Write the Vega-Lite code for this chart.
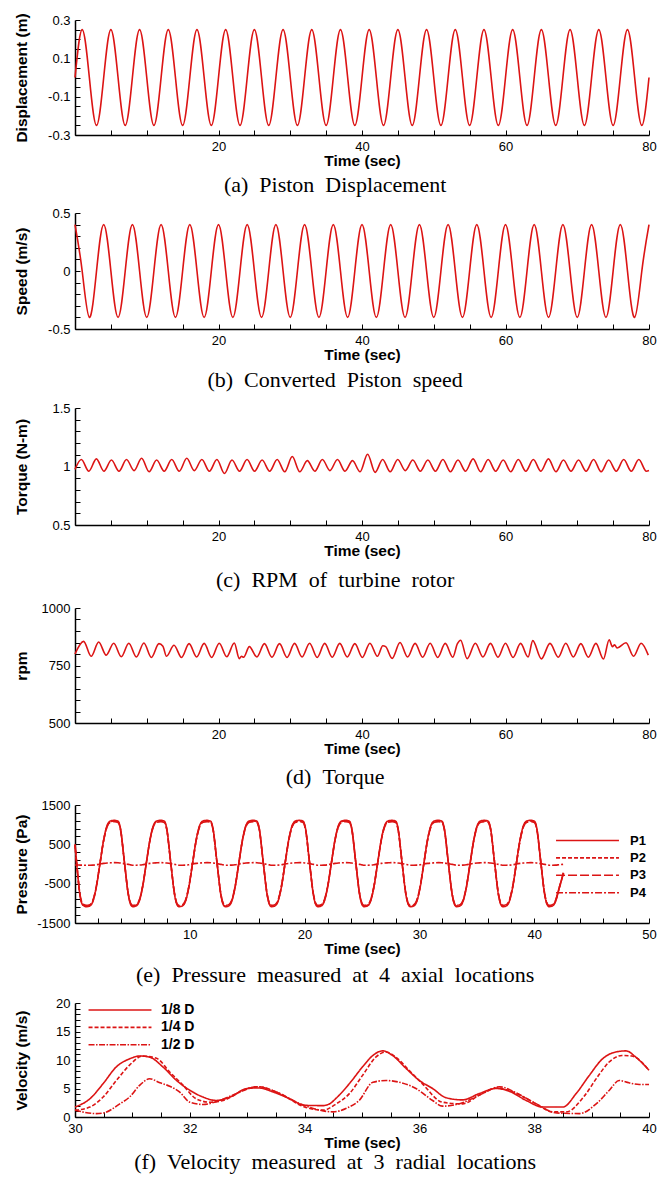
{
"$schema": "https://vega.github.io/schema/vega-lite/v6.json",
"padding": {"left": 13, "top": 12, "right": 6, "bottom": 4},
"spacing": 11,
"resolve": {"scale": {"strokeDash": "independent"}, "legend": {"strokeDash": "independent"}},
"config": {
 "view": {"stroke": null},
 "axis": {"grid": false, "domainColor": "#000", "domainWidth": 1.5, "tickColor": "#000", "tickWidth": 1, "tickSize": -5, "labelFont": "Liberation Sans", "labelFontSize": 13, "labelColor": "#000", "labelPadding": 10, "titleFont": "Liberation Sans", "titleFontSize": 15.5, "titleFontWeight": "bold", "titleColor": "#000", "labelFlush": false, "labelOverlap": false},
 "axisX": {"titlePadding": 0},
 "axisY": {"titleX": -46},
 "title": {"orient": "bottom", "anchor": "middle", "frame": "bounds", "font": "Liberation Serif", "fontSize": 22, "fontWeight": "normal", "color": "#000", "offset": 7},
 "legend": {"labelFont": "Liberation Sans", "labelFontWeight": "bold", "labelColor": "#000", "symbolType": "M-6,0H6", "symbolSize": 110, "symbolStrokeColor": "#dc1414", "symbolStrokeWidth": 1.6, "padding": 0, "rowPadding": 3.4},
 "line": {"color": "#dc1414", "strokeWidth": 1.6}
},
"datasets": {
 "ab": [
  {"t":0,"d":0,"s":0.4},{"t":1,"d":0.25,"s":0},{"t":2,"d":0,"s":-0.4},{"t":3,"d":-0.25,"s":0},
  {"t":4,"d":0,"s":0.4},{"t":5,"d":0.25,"s":0},{"t":6,"d":0,"s":-0.4},{"t":7,"d":-0.25,"s":0},
  {"t":8,"d":0,"s":0.4},{"t":9,"d":0.25,"s":0},{"t":10,"d":0,"s":-0.4},{"t":11,"d":-0.25,"s":0},
  {"t":12,"d":0,"s":0.4},{"t":13,"d":0.25,"s":0},{"t":14,"d":0,"s":-0.4},{"t":15,"d":-0.25,"s":0},
  {"t":16,"d":0,"s":0.4},{"t":17,"d":0.25,"s":0},{"t":18,"d":0,"s":-0.4},{"t":19,"d":-0.25,"s":0},
  {"t":20,"d":0,"s":0.4},{"t":21,"d":0.25,"s":0},{"t":22,"d":0,"s":-0.4},{"t":23,"d":-0.25,"s":0},
  {"t":24,"d":0,"s":0.4},{"t":25,"d":0.25,"s":0},{"t":26,"d":0,"s":-0.4},{"t":27,"d":-0.25,"s":0},
  {"t":28,"d":0,"s":0.4},{"t":29,"d":0.25,"s":0},{"t":30,"d":0,"s":-0.4},{"t":31,"d":-0.25,"s":0},
  {"t":32,"d":0,"s":0.4},{"t":33,"d":0.25,"s":0},{"t":34,"d":0,"s":-0.4},{"t":35,"d":-0.25,"s":0},
  {"t":36,"d":0,"s":0.4},{"t":37,"d":0.25,"s":0},{"t":38,"d":0,"s":-0.4},{"t":39,"d":-0.25,"s":0},
  {"t":40,"d":0,"s":0.4},{"t":41,"d":0.25,"s":0},{"t":42,"d":0,"s":-0.4},{"t":43,"d":-0.25,"s":0},
  {"t":44,"d":0,"s":0.4},{"t":45,"d":0.25,"s":0},{"t":46,"d":0,"s":-0.4},{"t":47,"d":-0.25,"s":0},
  {"t":48,"d":0,"s":0.4},{"t":49,"d":0.25,"s":0},{"t":50,"d":0,"s":-0.4},{"t":51,"d":-0.25,"s":0},
  {"t":52,"d":0,"s":0.4},{"t":53,"d":0.25,"s":0},{"t":54,"d":0,"s":-0.4},{"t":55,"d":-0.25,"s":0},
  {"t":56,"d":0,"s":0.4},{"t":57,"d":0.25,"s":0},{"t":58,"d":0,"s":-0.4},{"t":59,"d":-0.25,"s":0},
  {"t":60,"d":0,"s":0.4},{"t":61,"d":0.25,"s":0},{"t":62,"d":0,"s":-0.4},{"t":63,"d":-0.25,"s":0},
  {"t":64,"d":0,"s":0.4},{"t":65,"d":0.25,"s":0},{"t":66,"d":0,"s":-0.4},{"t":67,"d":-0.25,"s":0},
  {"t":68,"d":0,"s":0.4},{"t":69,"d":0.25,"s":0},{"t":70,"d":0,"s":-0.4},{"t":71,"d":-0.25,"s":0},
  {"t":72,"d":0,"s":0.4},{"t":73,"d":0.25,"s":0},{"t":74,"d":0,"s":-0.4},{"t":75,"d":-0.25,"s":0},
  {"t":76,"d":0,"s":0.4},{"t":77,"d":0.25,"s":0},{"t":78,"d":0,"s":-0.4},{"t":79,"d":-0.25,"s":0},
  {"t":80,"d":0,"s":0.4}
 ],
 "c": [
  {"t":0,"v":0.975},
  {"t":0.88,"v":1.06},{"t":1.93,"v":0.96},{"t":2.98,"v":1.065},{"t":4.03,"v":0.96},
  {"t":5.08,"v":1.055},{"t":6.13,"v":0.96},{"t":7.18,"v":1.06},{"t":8.23,"v":0.965},
  {"t":9.28,"v":1.07},{"t":10.33,"v":0.955},{"t":11.38,"v":1.055},{"t":12.43,"v":0.96},
  {"t":13.48,"v":1.06},{"t":14.53,"v":0.96},{"t":15.58,"v":1.07},{"t":16.63,"v":0.965},
  {"t":17.68,"v":1.06},{"t":18.73,"v":0.96},{"t":19.78,"v":1.06},{"t":20.83,"v":0.94},
  {"t":21.88,"v":1.055},{"t":22.93,"v":0.96},{"t":23.98,"v":1.06},{"t":25.03,"v":0.96},
  {"t":26.08,"v":1.055},{"t":27.13,"v":0.96},{"t":28.18,"v":1.06},{"t":29.23,"v":0.955},
  {"t":30.28,"v":1.085},{"t":31.33,"v":0.955},{"t":32.38,"v":1.05},{"t":33.43,"v":0.96},
  {"t":34.48,"v":1.06},{"t":35.53,"v":0.965},{"t":36.58,"v":1.06},{"t":37.63,"v":0.96},
  {"t":38.68,"v":1.05},{"t":39.73,"v":0.955},{"t":40.78,"v":1.105},{"t":41.83,"v":0.95},
  {"t":42.88,"v":1.06},{"t":43.93,"v":0.955},{"t":44.98,"v":1.06},{"t":46.03,"v":0.965},
  {"t":47.08,"v":1.055},{"t":48.13,"v":0.96},{"t":49.18,"v":1.055},{"t":50.23,"v":0.96},
  {"t":51.28,"v":1.06},{"t":52.33,"v":0.955},{"t":53.38,"v":1.055},{"t":54.43,"v":0.96},
  {"t":55.48,"v":1.065},{"t":56.53,"v":0.955},{"t":57.58,"v":1.06},{"t":58.63,"v":0.96},
  {"t":59.68,"v":1.055},{"t":60.73,"v":0.955},{"t":61.78,"v":1.06},{"t":62.83,"v":0.96},
  {"t":63.88,"v":1.06},{"t":64.93,"v":0.96},{"t":65.98,"v":1.065},{"t":67.03,"v":0.955},
  {"t":68.08,"v":1.055},{"t":69.13,"v":0.96},{"t":70.18,"v":1.055},{"t":71.23,"v":0.96},
  {"t":72.28,"v":1.06},{"t":73.33,"v":0.955},{"t":74.38,"v":1.055},{"t":75.43,"v":0.96},
  {"t":76.48,"v":1.06},{"t":77.53,"v":0.96},{"t":78.58,"v":1.06},{"t":79.63,"v":0.96},
  {"t":80,"v":0.965}
 ],
 "d": [
  {"t":0,"v":800},{"t":1.2,"v":855},{"t":2.25,"v":790},{"t":3.3,"v":852},{"t":4.35,"v":795},
  {"t":5.4,"v":847},{"t":6.45,"v":788},{"t":7.5,"v":847},{"t":8.55,"v":787},{"t":9.6,"v":848},
  {"t":10.65,"v":785},{"t":11.7,"v":845},{"t":12.25,"v":834},{"t":12.75,"v":790},{"t":13.8,"v":838},
  {"t":14.85,"v":785},{"t":15.9,"v":845},{"t":16.95,"v":787},{"t":18.0,"v":846},{"t":19.05,"v":785},
  {"t":20.1,"v":847},{"t":21.15,"v":788},{"t":22.2,"v":848},{"t":22.9,"v":780},{"t":23.2,"v":790},
  {"t":23.5,"v":786},{"t":24.3,"v":832},{"t":25.35,"v":787},{"t":26.4,"v":845},{"t":27.45,"v":786},
  {"t":28.5,"v":845},{"t":29.55,"v":785},{"t":30.6,"v":846},{"t":31.65,"v":787},{"t":32.7,"v":847},
  {"t":33.75,"v":785},{"t":34.8,"v":846},{"t":35.85,"v":786},{"t":36.9,"v":846},{"t":37.95,"v":787},
  {"t":39.0,"v":845},{"t":40.05,"v":785},{"t":41.1,"v":847},{"t":42.15,"v":790},{"t":42.9,"v":836},
  {"t":43.3,"v":832},{"t":44.2,"v":781},{"t":45.3,"v":850},{"t":46.35,"v":787},{"t":47.4,"v":846},
  {"t":48.45,"v":786},{"t":49.5,"v":847},{"t":50.55,"v":785},{"t":51.6,"v":846},{"t":52.65,"v":786},
  {"t":53.3,"v":845},{"t":53.75,"v":860},{"t":54.65,"v":780},{"t":55.8,"v":847},{"t":56.85,"v":787},
  {"t":57.9,"v":846},{"t":58.95,"v":786},{"t":60.0,"v":847},{"t":61.05,"v":785},{"t":62.1,"v":846},
  {"t":63.15,"v":787},{"t":63.8,"v":858},{"t":65.0,"v":779},{"t":66.2,"v":846},{"t":67.35,"v":786},
  {"t":68.4,"v":847},{"t":69.45,"v":787},{"t":70.5,"v":845},{"t":71.55,"v":786},{"t":72.6,"v":846},
  {"t":73.65,"v":778},{"t":74.45,"v":862},{"t":74.9,"v":832},{"t":75.2,"v":840},{"t":75.55,"v":826},
  {"t":76.8,"v":849},{"t":77.85,"v":790},{"t":78.9,"v":847},{"t":79.9,"v":795}
 ],
 "e": [
  {"t":0,"P1":500,"P2":493,"P3":485,"P4":-25},
  {"t":0.2,"P1":-150,"P2":-148,"P3":-146,"P4":-26},
  {"t":0.43,"P1":-790,"P2":-778,"P3":-766,"P4":-28},
  {"t":0.7,"P1":-1050,"P2":-1034,"P3":-1018,"P4":-30},
  {"t":1.00,"P1":-1085,"P2":-1069,"P3":-1052,"P4":-30},{"t":1.30,"P1":-1065,"P2":-1049,"P3":-1033,"P4":-30},{"t":1.55,"P1":-960,"P2":-946,"P3":-931,"P4":-28},{"t":1.85,"P1":-600,"P2":-591,"P3":-582,"P4":-20},{"t":2.17,"P1":0,"P2":0,"P3":0,"P4":0},{"t":2.50,"P1":620,"P2":611,"P3":601,"P4":15},{"t":2.80,"P1":980,"P2":965,"P3":951,"P4":25},{"t":3.10,"P1":1095,"P2":1079,"P3":1062,"P4":30},{"t":3.45,"P1":1110,"P2":1093,"P3":1077,"P4":35},{"t":3.75,"P1":1090,"P2":1074,"P3":1057,"P4":32},{"t":3.95,"P1":920,"P2":906,"P3":892,"P4":25},{"t":4.30,"P1":60,"P2":59,"P3":58,"P4":10},{"t":4.65,"P1":-790,"P2":-778,"P3":-766,"P4":-10},{"t":4.85,"P1":-1030,"P2":-1015,"P3":-999,"P4":-22},
  {"t":5.03,"P1":-1085,"P2":-1069,"P3":-1052,"P4":-30},{"t":5.33,"P1":-1065,"P2":-1049,"P3":-1033,"P4":-30},{"t":5.58,"P1":-960,"P2":-946,"P3":-931,"P4":-28},{"t":5.88,"P1":-600,"P2":-591,"P3":-582,"P4":-20},{"t":6.20,"P1":0,"P2":0,"P3":0,"P4":0},{"t":6.53,"P1":620,"P2":611,"P3":601,"P4":15},{"t":6.83,"P1":980,"P2":965,"P3":951,"P4":25},{"t":7.13,"P1":1095,"P2":1079,"P3":1062,"P4":30},{"t":7.48,"P1":1110,"P2":1093,"P3":1077,"P4":35},{"t":7.78,"P1":1090,"P2":1074,"P3":1057,"P4":32},{"t":7.98,"P1":920,"P2":906,"P3":892,"P4":25},{"t":8.33,"P1":60,"P2":59,"P3":58,"P4":10},{"t":8.68,"P1":-790,"P2":-778,"P3":-766,"P4":-10},{"t":8.88,"P1":-1030,"P2":-1015,"P3":-999,"P4":-22},
  {"t":9.06,"P1":-1085,"P2":-1069,"P3":-1052,"P4":-30},{"t":9.36,"P1":-1065,"P2":-1049,"P3":-1033,"P4":-30},{"t":9.61,"P1":-960,"P2":-946,"P3":-931,"P4":-28},{"t":9.91,"P1":-600,"P2":-591,"P3":-582,"P4":-20},{"t":10.23,"P1":0,"P2":0,"P3":0,"P4":0},{"t":10.56,"P1":620,"P2":611,"P3":601,"P4":15},{"t":10.86,"P1":980,"P2":965,"P3":951,"P4":25},{"t":11.16,"P1":1095,"P2":1079,"P3":1062,"P4":30},{"t":11.51,"P1":1110,"P2":1093,"P3":1077,"P4":35},{"t":11.81,"P1":1090,"P2":1074,"P3":1057,"P4":32},{"t":12.01,"P1":920,"P2":906,"P3":892,"P4":25},{"t":12.36,"P1":60,"P2":59,"P3":58,"P4":10},{"t":12.71,"P1":-790,"P2":-778,"P3":-766,"P4":-10},{"t":12.91,"P1":-1030,"P2":-1015,"P3":-999,"P4":-22},
  {"t":13.09,"P1":-1085,"P2":-1069,"P3":-1052,"P4":-30},{"t":13.39,"P1":-1065,"P2":-1049,"P3":-1033,"P4":-30},{"t":13.64,"P1":-960,"P2":-946,"P3":-931,"P4":-28},{"t":13.94,"P1":-600,"P2":-591,"P3":-582,"P4":-20},{"t":14.26,"P1":0,"P2":0,"P3":0,"P4":0},{"t":14.59,"P1":620,"P2":611,"P3":601,"P4":15},{"t":14.89,"P1":980,"P2":965,"P3":951,"P4":25},{"t":15.19,"P1":1095,"P2":1079,"P3":1062,"P4":30},{"t":15.54,"P1":1110,"P2":1093,"P3":1077,"P4":35},{"t":15.84,"P1":1090,"P2":1074,"P3":1057,"P4":32},{"t":16.04,"P1":920,"P2":906,"P3":892,"P4":25},{"t":16.39,"P1":60,"P2":59,"P3":58,"P4":10},{"t":16.74,"P1":-790,"P2":-778,"P3":-766,"P4":-10},{"t":16.94,"P1":-1030,"P2":-1015,"P3":-999,"P4":-22},
  {"t":17.12,"P1":-1085,"P2":-1069,"P3":-1052,"P4":-30},{"t":17.42,"P1":-1065,"P2":-1049,"P3":-1033,"P4":-30},{"t":17.67,"P1":-960,"P2":-946,"P3":-931,"P4":-28},{"t":17.97,"P1":-600,"P2":-591,"P3":-582,"P4":-20},{"t":18.29,"P1":0,"P2":0,"P3":0,"P4":0},{"t":18.62,"P1":620,"P2":611,"P3":601,"P4":15},{"t":18.92,"P1":980,"P2":965,"P3":951,"P4":25},{"t":19.22,"P1":1095,"P2":1079,"P3":1062,"P4":30},{"t":19.57,"P1":1110,"P2":1093,"P3":1077,"P4":35},{"t":19.87,"P1":1090,"P2":1074,"P3":1057,"P4":32},{"t":20.07,"P1":920,"P2":906,"P3":892,"P4":25},{"t":20.42,"P1":60,"P2":59,"P3":58,"P4":10},{"t":20.77,"P1":-790,"P2":-778,"P3":-766,"P4":-10},{"t":20.97,"P1":-1030,"P2":-1015,"P3":-999,"P4":-22},
  {"t":21.15,"P1":-1085,"P2":-1069,"P3":-1052,"P4":-30},{"t":21.45,"P1":-1065,"P2":-1049,"P3":-1033,"P4":-30},{"t":21.70,"P1":-960,"P2":-946,"P3":-931,"P4":-28},{"t":22.00,"P1":-600,"P2":-591,"P3":-582,"P4":-20},{"t":22.32,"P1":0,"P2":0,"P3":0,"P4":0},{"t":22.65,"P1":620,"P2":611,"P3":601,"P4":15},{"t":22.95,"P1":980,"P2":965,"P3":951,"P4":25},{"t":23.25,"P1":1095,"P2":1079,"P3":1062,"P4":30},{"t":23.60,"P1":1110,"P2":1093,"P3":1077,"P4":35},{"t":23.90,"P1":1090,"P2":1074,"P3":1057,"P4":32},{"t":24.10,"P1":920,"P2":906,"P3":892,"P4":25},{"t":24.45,"P1":60,"P2":59,"P3":58,"P4":10},{"t":24.80,"P1":-790,"P2":-778,"P3":-766,"P4":-10},{"t":25.00,"P1":-1030,"P2":-1015,"P3":-999,"P4":-22},
  {"t":25.18,"P1":-1085,"P2":-1069,"P3":-1052,"P4":-30},{"t":25.48,"P1":-1065,"P2":-1049,"P3":-1033,"P4":-30},{"t":25.73,"P1":-960,"P2":-946,"P3":-931,"P4":-28},{"t":26.03,"P1":-600,"P2":-591,"P3":-582,"P4":-20},{"t":26.35,"P1":0,"P2":0,"P3":0,"P4":0},{"t":26.68,"P1":620,"P2":611,"P3":601,"P4":15},{"t":26.98,"P1":980,"P2":965,"P3":951,"P4":25},{"t":27.28,"P1":1095,"P2":1079,"P3":1062,"P4":30},{"t":27.63,"P1":1110,"P2":1093,"P3":1077,"P4":35},{"t":27.93,"P1":1090,"P2":1074,"P3":1057,"P4":32},{"t":28.13,"P1":920,"P2":906,"P3":892,"P4":25},{"t":28.48,"P1":60,"P2":59,"P3":58,"P4":10},{"t":28.83,"P1":-790,"P2":-778,"P3":-766,"P4":-10},{"t":29.03,"P1":-1030,"P2":-1015,"P3":-999,"P4":-22},
  {"t":29.21,"P1":-1085,"P2":-1069,"P3":-1052,"P4":-30},{"t":29.51,"P1":-1065,"P2":-1049,"P3":-1033,"P4":-30},{"t":29.76,"P1":-960,"P2":-946,"P3":-931,"P4":-28},{"t":30.06,"P1":-600,"P2":-591,"P3":-582,"P4":-20},{"t":30.38,"P1":0,"P2":0,"P3":0,"P4":0},{"t":30.71,"P1":620,"P2":611,"P3":601,"P4":15},{"t":31.01,"P1":980,"P2":965,"P3":951,"P4":25},{"t":31.31,"P1":1095,"P2":1079,"P3":1062,"P4":30},{"t":31.66,"P1":1110,"P2":1093,"P3":1077,"P4":35},{"t":31.96,"P1":1090,"P2":1074,"P3":1057,"P4":32},{"t":32.16,"P1":920,"P2":906,"P3":892,"P4":25},{"t":32.51,"P1":60,"P2":59,"P3":58,"P4":10},{"t":32.86,"P1":-790,"P2":-778,"P3":-766,"P4":-10},{"t":33.06,"P1":-1030,"P2":-1015,"P3":-999,"P4":-22},
  {"t":33.24,"P1":-1085,"P2":-1069,"P3":-1052,"P4":-30},{"t":33.54,"P1":-1065,"P2":-1049,"P3":-1033,"P4":-30},{"t":33.79,"P1":-960,"P2":-946,"P3":-931,"P4":-28},{"t":34.09,"P1":-600,"P2":-591,"P3":-582,"P4":-20},{"t":34.41,"P1":0,"P2":0,"P3":0,"P4":0},{"t":34.74,"P1":620,"P2":611,"P3":601,"P4":15},{"t":35.04,"P1":980,"P2":965,"P3":951,"P4":25},{"t":35.34,"P1":1095,"P2":1079,"P3":1062,"P4":30},{"t":35.69,"P1":1110,"P2":1093,"P3":1077,"P4":35},{"t":35.99,"P1":1090,"P2":1074,"P3":1057,"P4":32},{"t":36.19,"P1":920,"P2":906,"P3":892,"P4":25},{"t":36.54,"P1":60,"P2":59,"P3":58,"P4":10},{"t":36.89,"P1":-790,"P2":-778,"P3":-766,"P4":-10},{"t":37.09,"P1":-1030,"P2":-1015,"P3":-999,"P4":-22},
  {"t":37.27,"P1":-1085,"P2":-1069,"P3":-1052,"P4":-30},{"t":37.57,"P1":-1065,"P2":-1049,"P3":-1033,"P4":-30},{"t":37.82,"P1":-960,"P2":-946,"P3":-931,"P4":-28},{"t":38.12,"P1":-600,"P2":-591,"P3":-582,"P4":-20},{"t":38.44,"P1":0,"P2":0,"P3":0,"P4":0},{"t":38.77,"P1":620,"P2":611,"P3":601,"P4":15},{"t":39.07,"P1":980,"P2":965,"P3":951,"P4":25},{"t":39.37,"P1":1095,"P2":1079,"P3":1062,"P4":30},{"t":39.72,"P1":1110,"P2":1093,"P3":1077,"P4":35},{"t":40.02,"P1":1090,"P2":1074,"P3":1057,"P4":32},{"t":40.22,"P1":920,"P2":906,"P3":892,"P4":25},{"t":40.57,"P1":60,"P2":59,"P3":58,"P4":10},{"t":40.92,"P1":-790,"P2":-778,"P3":-766,"P4":-10},{"t":41.12,"P1":-1030,"P2":-1015,"P3":-999,"P4":-22},
  {"t":41.30,"P1":-1085,"P2":-1069,"P3":-1052,"P4":-30},{"t":41.60,"P1":-1065,"P2":-1049,"P3":-1033,"P4":-30},{"t":41.85,"P1":-960,"P2":-946,"P3":-931,"P4":-28},{"t":42.15,"P1":-650,"P2":-640,"P3":-630,"P4":-20},{"t":42.55,"P1":-230,"P2":-227,"P3":-223,"P4":-8}
 ],
 "f": [
  {"t":30.0,"s":"1/8 D","v":1.75},{"t":30.26,"s":"1/8 D","v":3.2},{"t":30.49,"s":"1/8 D","v":5.85},{"t":30.72,"s":"1/8 D","v":8.8},{"t":30.95,"s":"1/8 D","v":10.2},{"t":31.13,"s":"1/8 D","v":10.7},{"t":31.3,"s":"1/8 D","v":10.5},{"t":31.53,"s":"1/8 D","v":8.8},{"t":31.77,"s":"1/8 D","v":6.4},{"t":32.0,"s":"1/8 D","v":4.7},{"t":32.23,"s":"1/8 D","v":3.5},{"t":32.46,"s":"1/8 D","v":2.9},{"t":32.7,"s":"1/8 D","v":3.5},{"t":33.0,"s":"1/8 D","v":5.0},{"t":33.2,"s":"1/8 D","v":5.1},{"t":33.45,"s":"1/8 D","v":4.4},{"t":33.74,"s":"1/8 D","v":3.2},{"t":34.0,"s":"1/8 D","v":2.05},{"t":34.32,"s":"1/8 D","v":2.0},{"t":34.45,"s":"1/8 D","v":2.4},{"t":34.55,"s":"1/8 D","v":3.3},{"t":34.78,"s":"1/8 D","v":5.85},{"t":35.01,"s":"1/8 D","v":8.8},{"t":35.19,"s":"1/8 D","v":10.8},{"t":35.36,"s":"1/8 D","v":11.6},{"t":35.53,"s":"1/8 D","v":10.8},{"t":35.77,"s":"1/8 D","v":8.5},{"t":36.0,"s":"1/8 D","v":6.4},{"t":36.23,"s":"1/8 D","v":5.0},{"t":36.46,"s":"1/8 D","v":3.4},{"t":36.75,"s":"1/8 D","v":3.0},{"t":37.04,"s":"1/8 D","v":4.1},{"t":37.34,"s":"1/8 D","v":5.0},{"t":37.57,"s":"1/8 D","v":4.5},{"t":37.86,"s":"1/8 D","v":2.9},{"t":38.15,"s":"1/8 D","v":1.75},{"t":38.5,"s":"1/8 D","v":1.75},{"t":38.73,"s":"1/8 D","v":4.1},{"t":38.96,"s":"1/8 D","v":7.3},{"t":39.19,"s":"1/8 D","v":10.2},{"t":39.42,"s":"1/8 D","v":11.4},{"t":39.6,"s":"1/8 D","v":11.6},{"t":39.77,"s":"1/8 D","v":10.5},{"t":40.0,"s":"1/8 D","v":8.2},
  {"t":30.0,"s":"1/4 D","v":1.2},{"t":30.26,"s":"1/4 D","v":1.75},{"t":30.49,"s":"1/4 D","v":3.5},{"t":30.72,"s":"1/4 D","v":6.4},{"t":30.95,"s":"1/4 D","v":9.1},{"t":31.18,"s":"1/4 D","v":10.7},{"t":31.42,"s":"1/4 D","v":10.3},{"t":31.65,"s":"1/4 D","v":7.9},{"t":31.88,"s":"1/4 D","v":5.6},{"t":32.11,"s":"1/4 D","v":3.2},{"t":32.35,"s":"1/4 D","v":2.6},{"t":32.58,"s":"1/4 D","v":2.9},{"t":33.0,"s":"1/4 D","v":5.0},{"t":33.2,"s":"1/4 D","v":5.3},{"t":33.57,"s":"1/4 D","v":4.1},{"t":34.0,"s":"1/4 D","v":1.75},{"t":34.32,"s":"1/4 D","v":1.2},{"t":34.55,"s":"1/4 D","v":2.3},{"t":34.78,"s":"1/4 D","v":4.1},{"t":35.01,"s":"1/4 D","v":7.3},{"t":35.24,"s":"1/4 D","v":10.5},{"t":35.42,"s":"1/4 D","v":11.4},{"t":35.59,"s":"1/4 D","v":10.5},{"t":35.82,"s":"1/4 D","v":8.2},{"t":36.05,"s":"1/4 D","v":5.85},{"t":36.4,"s":"1/4 D","v":2.6},{"t":36.75,"s":"1/4 D","v":2.3},{"t":37.04,"s":"1/4 D","v":3.8},{"t":37.34,"s":"1/4 D","v":5.1},{"t":37.63,"s":"1/4 D","v":4.4},{"t":37.98,"s":"1/4 D","v":2.6},{"t":38.33,"s":"1/4 D","v":0.9},{"t":38.56,"s":"1/4 D","v":0.9},{"t":38.86,"s":"1/4 D","v":3.5},{"t":39.1,"s":"1/4 D","v":7.0},{"t":39.3,"s":"1/4 D","v":9.6},{"t":39.53,"s":"1/4 D","v":10.8},{"t":39.7,"s":"1/4 D","v":10.7},{"t":40.0,"s":"1/4 D","v":8.2},
  {"t":30.0,"s":"1/2 D","v":1.2},{"t":30.37,"s":"1/2 D","v":0.6},{"t":30.49,"s":"1/2 D","v":0.7},{"t":30.78,"s":"1/2 D","v":2.3},{"t":30.95,"s":"1/2 D","v":3.5},{"t":31.13,"s":"1/2 D","v":5.6},{"t":31.3,"s":"1/2 D","v":6.7},{"t":31.48,"s":"1/2 D","v":6.0},{"t":31.65,"s":"1/2 D","v":5.4},{"t":31.82,"s":"1/2 D","v":4.4},{"t":32.0,"s":"1/2 D","v":2.6},{"t":32.23,"s":"1/2 D","v":2.2},{"t":32.52,"s":"1/2 D","v":2.9},{"t":32.81,"s":"1/2 D","v":4.1},{"t":33.16,"s":"1/2 D","v":5.3},{"t":33.51,"s":"1/2 D","v":4.4},{"t":33.86,"s":"1/2 D","v":2.6},{"t":34.15,"s":"1/2 D","v":1.5},{"t":34.5,"s":"1/2 D","v":0.9},{"t":34.72,"s":"1/2 D","v":1.5},{"t":34.95,"s":"1/2 D","v":2.9},{"t":35.19,"s":"1/2 D","v":6.1},{"t":35.42,"s":"1/2 D","v":6.4},{"t":35.65,"s":"1/2 D","v":6.1},{"t":35.94,"s":"1/2 D","v":5.0},{"t":36.23,"s":"1/2 D","v":2.9},{"t":36.4,"s":"1/2 D","v":1.9},{"t":36.75,"s":"1/2 D","v":2.5},{"t":37.1,"s":"1/2 D","v":4.1},{"t":37.4,"s":"1/2 D","v":5.3},{"t":37.69,"s":"1/2 D","v":4.2},{"t":38.04,"s":"1/2 D","v":2.3},{"t":38.39,"s":"1/2 D","v":0.7},{"t":38.79,"s":"1/2 D","v":0.6},{"t":39.08,"s":"1/2 D","v":2.3},{"t":39.31,"s":"1/2 D","v":4.7},{"t":39.48,"s":"1/2 D","v":6.4},{"t":39.65,"s":"1/2 D","v":6.0},{"t":39.83,"s":"1/2 D","v":5.7},{"t":40.0,"s":"1/2 D","v":5.7}
 ]
},
"vconcat": [
 {
  "width": 574, "height": 115,
  "data": {"name": "ab"},
  "title": {"text": "(a)\u00a0\u00a0Piston\u00a0\u00a0Displacement", "offset": 6},
  "mark": {"type": "line", "interpolate": "natural"},
  "encoding": {
   "x": {"field": "t", "type": "quantitative", "scale": {"domain": [0, 80], "nice": false}, "axis": {"title": "Time (sec)", "values": [0,5,10,15,20,25,30,35,40,45,50,55,60,65,70,75,80], "labelExpr": "datum.value > 0 && datum.value % 20 == 0 ? '' + datum.value : ''"}},
   "y": {"field": "d", "type": "quantitative", "scale": {"domain": [-0.3, 0.3], "nice": false, "zero": false}, "axis": {"title": "Displacement (m)", "values": [-0.3,-0.25,-0.2,-0.15,-0.1,-0.05,0,0.05,0.1,0.15,0.2,0.25,0.3], "labelExpr": "indexof([-0.3,-0.1,0.1,0.3], datum.value) >= 0 ? '' + datum.value : ''"}}
  }
 },
 {
  "width": 574, "height": 116,
  "data": {"name": "ab"},
  "title": {"text": "(b)\u00a0\u00a0Converted\u00a0\u00a0Piston\u00a0\u00a0speed", "offset": 7},
  "mark": {"type": "line", "interpolate": "natural"},
  "encoding": {
   "x": {"field": "t", "type": "quantitative", "scale": {"domain": [0, 80], "nice": false}, "axis": {"title": "Time (sec)", "values": [0,5,10,15,20,25,30,35,40,45,50,55,60,65,70,75,80], "labelExpr": "datum.value > 0 && datum.value % 20 == 0 ? '' + datum.value : ''"}},
   "y": {"field": "s", "type": "quantitative", "scale": {"domain": [-0.5, 0.5], "nice": false, "zero": false}, "axis": {"title": "Speed (m/s)", "values": [-0.5,-0.4,-0.3,-0.2,-0.1,0,0.1,0.2,0.3,0.4,0.5], "labelExpr": "indexof([-0.5,0,0.5], datum.value) >= 0 ? '' + datum.value : ''"}}
  }
 },
 {
  "width": 574, "height": 117,
  "data": {"name": "c"},
  "title": {"text": "(c)\u00a0\u00a0RPM\u00a0\u00a0of\u00a0\u00a0turbine\u00a0\u00a0rotor", "offset": 11},
  "mark": {"type": "line", "interpolate": "monotone"},
  "encoding": {
   "x": {"field": "t", "type": "quantitative", "scale": {"domain": [0, 80], "nice": false}, "axis": {"title": "Time (sec)", "values": [0,5,10,15,20,25,30,35,40,45,50,55,60,65,70,75,80], "labelExpr": "datum.value > 0 && datum.value % 20 == 0 ? '' + datum.value : ''"}},
   "y": {"field": "v", "type": "quantitative", "scale": {"domain": [0.5, 1.5], "nice": false, "zero": false}, "axis": {"title": "Torque (N-m)", "values": [0.5,0.6,0.7,0.8,0.9,1,1.1,1.2,1.3,1.4,1.5], "labelExpr": "indexof([0.5,1,1.5], datum.value) >= 0 ? '' + datum.value : ''"}}
  }
 },
 {
  "width": 574, "height": 115,
  "data": {"name": "d"},
  "title": {"text": "(d)\u00a0\u00a0Torque", "offset": 10},
  "mark": {"type": "line", "interpolate": "monotone"},
  "encoding": {
   "x": {"field": "t", "type": "quantitative", "scale": {"domain": [0, 80], "nice": false}, "axis": {"title": "Time (sec)", "values": [0,5,10,15,20,25,30,35,40,45,50,55,60,65,70,75,80], "labelExpr": "datum.value > 0 && datum.value % 20 == 0 ? '' + datum.value : ''"}},
   "y": {"field": "v", "type": "quantitative", "scale": {"domain": [500, 1000], "nice": false, "zero": false}, "axis": {"title": "rpm", "values": [500,550,600,650,700,750,800,850,900,950,1000], "labelExpr": "indexof([500,750,1000], datum.value) >= 0 ? '' + datum.value : ''"}}
  }
 },
 {
  "width": 574, "height": 118,
  "data": {"name": "e"},
  "transform": [{"fold": ["P1", "P2", "P3", "P4"], "as": ["series", "p"]}],
  "title": {"text": "(e)\u00a0\u00a0Pressure\u00a0\u00a0measured\u00a0\u00a0at\u00a0\u00a04\u00a0\u00a0axial\u00a0\u00a0locations", "offset": 8},
  "mark": {"type": "line", "interpolate": "monotone"},
  "encoding": {
   "x": {"field": "t", "type": "quantitative", "scale": {"domain": [0, 50], "nice": false}, "axis": {"title": "Time (sec)", "values": [0,2,4,6,8,10,12,14,16,18,20,22,24,26,28,30,32,34,36,38,40,42,44,46,48,50], "labelExpr": "datum.value > 0 && datum.value % 10 == 0 ? '' + datum.value : ''"}},
   "y": {"field": "p", "type": "quantitative", "scale": {"domain": [-1500, 1500], "nice": false, "zero": false}, "axis": {"title": "Pressure (Pa)", "values": [-1500,-1300,-1100,-900,-700,-500,-300,-100,100,300,500,700,900,1100,1300,1500], "labelExpr": "indexof([-1500,-500,500,1500], datum.value) >= 0 ? '' + datum.value : ''"}},
   "strokeDash": {"field": "series", "type": "nominal", "scale": {"domain": ["P1", "P2", "P3", "P4"], "range": [[1, 0], [4, 2], [9, 3], [7, 2, 2, 2]]}, "legend": {"title": null, "orient": "none", "legendX": 506, "legendY": 29, "labelOffset": 36, "labelFontSize": 13}}
  }
 },
 {
  "width": 574, "height": 114,
  "data": {"name": "f"},
  "title": {"text": "(f)\u00a0\u00a0Velocity\u00a0\u00a0measured\u00a0\u00a0at\u00a0\u00a03\u00a0\u00a0radial\u00a0\u00a0locations", "offset": 1},
  "mark": {"type": "line", "interpolate": "monotone"},
  "encoding": {
   "x": {"field": "t", "type": "quantitative", "scale": {"domain": [30, 40], "nice": false, "zero": false}, "axis": {"title": "Time (sec)", "values": [30,30.5,31,31.5,32,32.5,33,33.5,34,34.5,35,35.5,36,36.5,37,37.5,38,38.5,39,39.5,40], "labelExpr": "datum.value % 2 == 0 ? '' + datum.value : ''"}},
   "y": {"field": "v", "type": "quantitative", "scale": {"domain": [0, 20], "nice": false}, "axis": {"title": "Velocity (m/s)", "values": [0,1,2,3,4,5,6,7,8,9,10,11,12,13,14,15,16,17,18,19,20], "labelExpr": "datum.value % 5 == 0 ? '' + datum.value : ''"}},
   "strokeDash": {"field": "s", "type": "nominal", "scale": {"domain": ["1/8 D", "1/4 D", "1/2 D"], "range": [[1, 0], [4, 2], [6, 1.5, 1.5, 1.5]]}, "legend": {"title": null, "orient": "none", "legendX": 38, "legendY": 0, "labelOffset": 34, "labelFontSize": 14}}
  }
 }
]
}
